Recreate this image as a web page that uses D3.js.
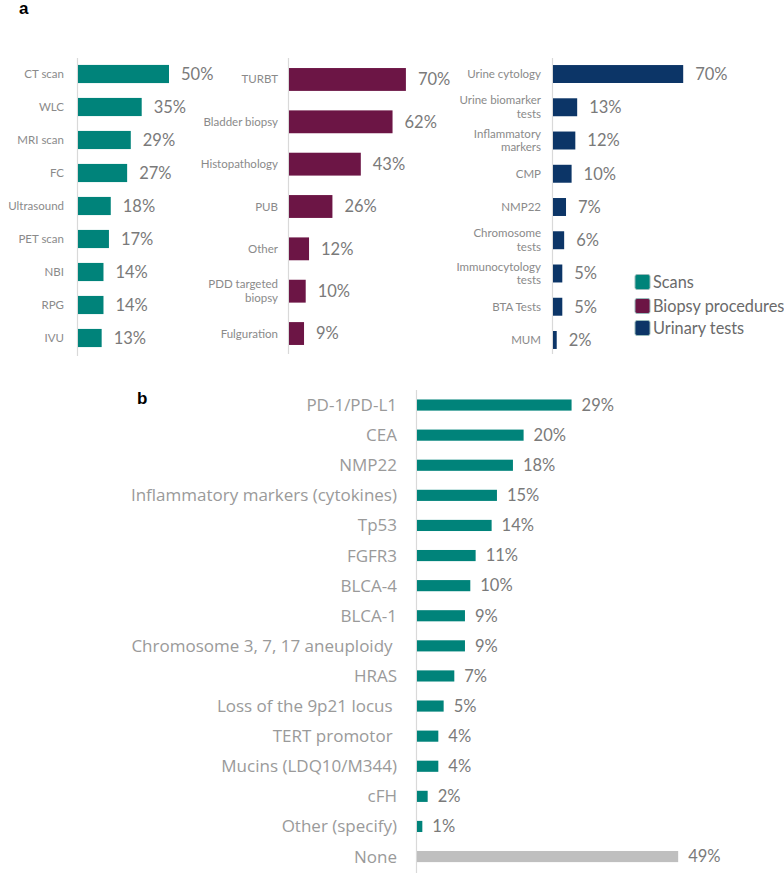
<!DOCTYPE html>
<html><head><meta charset="utf-8">
<script src="https://cdn.jsdelivr.net/npm/d3@7"></script>
<style>body{margin:0;background:#fff;} svg{display:block;font-family:Lato,"Open Sans",sans-serif;} text{white-space:pre;}</style>
</head><body>
<script>
// Panel a data
const scanCats = ["CT scan","WLC","MRI scan","FC","Ultrasound","PET scan","NBI","RPG","IVU"];
const scanVals = [50,35,29,27,18,17,14,14,13];
const biopsyCats = ["TURBT","Bladder biopsy","Histopathology","PUB","Other","PDD targeted|biopsy","Fulguration"];
const biopsyVals = [70,62,43,26,12,10,9];
const urineCats = ["Urine cytology","Urine biomarker|tests","Inflammatory|markers","CMP","NMP22","Chromosome|tests","Immunocytology|tests","BTA Tests","MUM"];
const urineVals = [70,13,12,10,7,6,5,5,2];
const legendLabels = ["Scans","Biopsy procedures","Urinary tests"];
// Panel b data
const bioCats = ["PD-1/PD-L1","CEA","NMP22","Inflammatory markers (cytokines)","Tp53","FGFR3","BLCA-4","BLCA-1","Chromosome 3, 7, 17 aneuploidy ","HRAS","Loss of the 9p21 locus ","TERT promotor ","Mucins (LDQ10/M344)","cFH","Other (specify)","None"];
const bioVals = [29,20,18,15,14,11,10,9,9,7,5,4,4,2,1,49];

const colors = {scan:"#00837a", biopsy:"#6c1545", urine:"#0c3567", none:"#bfbfbf"};
const labelCol = "#8a8a8a", valCol = "#7a7a7a";

const svg = d3.select("body").append("svg").attr("width",784).attr("height",873);

function panel(cfg){
  const g = svg.append("g");
  const x = d3.scaleLinear().domain([0,100]).range([cfg.x0, cfg.x0 + cfg.pxPer*100]);
  const y = d3.scaleBand().domain(cfg.cats).range(cfg.yr).paddingInner(cfg.pad).paddingOuter(cfg.pad/2);
  const data = cfg.cats.map((c,i)=>({c, v:cfg.vals[i], i}));
  g.append("line").attr("x1",cfg.x0-0.5).attr("x2",cfg.x0-0.5).attr("y1",cfg.axis[0]).attr("y2",cfg.axis[1])
    .attr("stroke","#d9d9d9").attr("stroke-width",1.2);
  g.selectAll("rect.bar").data(data).join("rect").attr("class","bar")
    .attr("x",x(0)).attr("y",d=>y(d.c)).attr("width",d=>x(d.v)-x(0)).attr("height",y.bandwidth())
    .attr("fill",d=>cfg.colorFn(d));
  const lab = g.selectAll("text.cat").data(data).join("text").attr("class","cat")
    .attr("x",cfg.x0 - cfg.labGap).attr("text-anchor","end")
    .attr("font-size",cfg.labSize).attr("fill",cfg.labCol||labelCol);
  if (cfg.labFont) lab.attr("font-family", cfg.labFont);
  lab.each(function(d){
    const lines = d.c.split("|");
    const cy = y(d.c) + y.bandwidth()/2;
    const lh = cfg.labSize*1.2;
    lines.forEach((t,k)=>{
      d3.select(this).append("tspan").attr("x",cfg.x0 - cfg.labGap)
        .attr("y", cy + (k - (lines.length-1)/2)*lh).attr("dy","0.35em").text(t);
    });
  });
  g.selectAll("text.val").data(data).join("text").attr("class","val")
    .attr("x",d=>x(d.v)+cfg.valGap).attr("y",d=>y(d.c)+y.bandwidth()/2).attr("dy","0.35em")
    .attr("font-size",cfg.valSize).attr("fill",valCol).text(d=>d.v+"%");
}

panel({cats:scanCats, vals:scanVals, x0:78, pxPer:1.82, yr:[57.5,354.5], pad:0.45, axis:[58,356],
  labGap:14, labSize:11.5, valGap:12, valSize:16.5, colorFn:()=>colors.scan});
panel({cats:biopsyCats, vals:biopsyVals, x0:289, pxPer:1.67, yr:[58.3,354.7], pad:0.46, axis:[58,354],
  labGap:11, labSize:11.5, valGap:12, valSize:16.5, colorFn:()=>colors.biopsy});
panel({cats:urineCats, vals:urineVals, x0:553, pxPer:1.86, yr:[57.4,356.6], pad:0.46, axis:[58,354],
  labGap:12, labSize:11.5, valGap:12, valSize:16.5, colorFn:()=>colors.urine});
panel({cats:bioCats, vals:bioVals, x0:417, pxPer:5.33, yr:[390,871.6], pad:0.63, axis:[390,873],
  labGap:20, labSize:17, valGap:10, valSize:16.5, labCol:"#9a9a9a", labFont:"'Open Sans', sans-serif",
  colorFn:d=>d.c==="None"?colors.none:colors.scan});

// legend
const leg = svg.append("g");
const legCols = [colors.scan, colors.biopsy, colors.urine];
legendLabels.forEach((t,i)=>{
  const cy = [282,306,328][i];
  leg.append("rect").attr("x",635).attr("y",cy-7.5).attr("width",15).attr("height",15).attr("rx",2)
    .attr("fill",legCols[i]).attr("stroke","#9bb","stroke-width",0.5);
  leg.append("text").attr("x",653).attr("y",cy).attr("dy","0.35em").attr("font-size",16.3)
    .attr("fill","#6a6a6a").text(t);
});

// panel letters
svg.append("text").attr("x",19).attr("y",14).attr("font-size",17).attr("font-weight","bold")
  .attr("font-family","Arial, Liberation Sans, sans-serif").text("a");
svg.append("text").attr("x",137).attr("y",404).attr("font-size",17).attr("font-weight","bold")
  .attr("font-family","Arial, Liberation Sans, sans-serif").text("b");
</script>
</body></html>
